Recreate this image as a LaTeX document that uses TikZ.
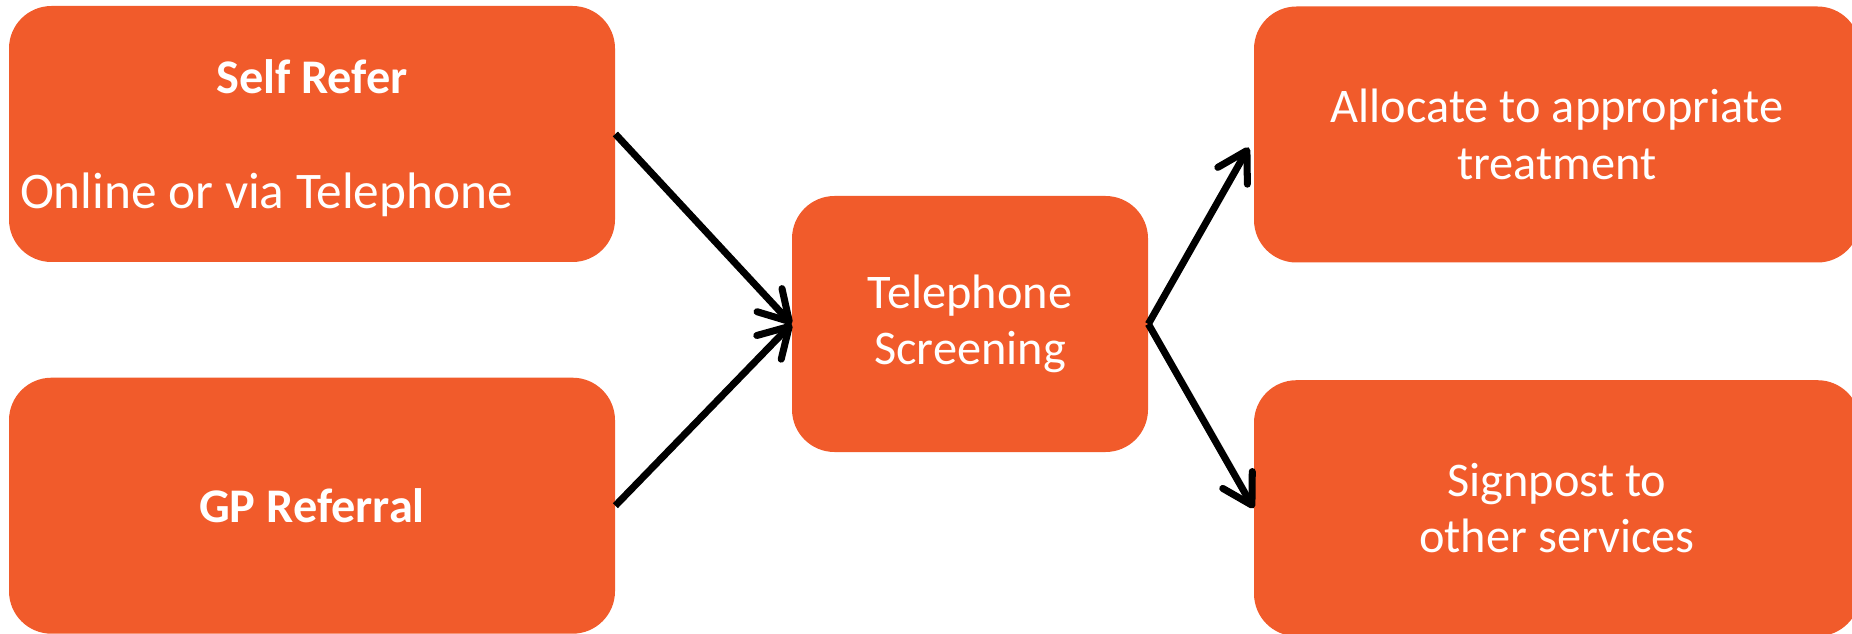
\documentclass[tikz,border=0pt]{standalone}
\usepackage{fontspec}
\setmainfont{Carlito}
\usepackage{tikz}
\usetikzlibrary{
  positioning,
  calc,
  arrows.meta
}
\definecolor{boxorange}{RGB}{241,91,43}

\begin{document}
\begin{tikzpicture}[
      node distance=2.3cm and 2.1cm,
      refbox/.style={rectangle, rounded corners=0.85cm, fill=boxorange, text=white, minimum width=12.12cm, minimum height=5.12cm, align=center, font=\fontsize{27.5}{32}\selectfont},
      screenbox/.style={refbox, minimum width=7.12cm},
      boxtext/.style={text=white, inner sep=0pt, font=\fontsize{27.5}{32}\selectfont},
      arrow/.style={-{Straight Barb[length=0.58cm, width=0.68cm, round]}, line width=4pt}
    ]
      \useasboundingbox (0,0) rectangle (37.04,-12.68);

      % Nodes
      \node[refbox] (self) at (6.24,-2.68) {};
      \node[refbox, below=of self, font=\fontsize{27.5}{32}\selectfont\bfseries] (gp) {GP Referral};
      \node[screenbox] (tele) at (19.40,-6.48) {Telephone\\Screening};
      \node[refbox] (alloc) at (31.14,-2.69) {Allocate to appropriate\\treatment};
      \node[refbox, below=2.34cm of alloc] (sign) {Signpost to\\other services};

      % Texts in the self refer box
      \node[boxtext, anchor=base, font=\fontsize{27.5}{32}\selectfont\bfseries] (selftitle) at ($(self.north)+(0,-1.75)$) {Self Refer};
      \node[boxtext, anchor=base west, font=\fontsize{29.2}{34}\selectfont] (selfsub) at ($(self.west)+(0.22,-1.50)$) {Online or via Telephone};

      % Arrows
      \draw[arrow] (self.east) -- (tele.west);
      \draw[arrow] (gp.east) -- (tele.west);
      \draw[arrow] (tele.east) -- ([xshift=-0.1cm, yshift=-0.26cm]alloc.west);
      \draw[arrow] (tele.east) -- (sign.west);
    \end{tikzpicture}
\end{document}
